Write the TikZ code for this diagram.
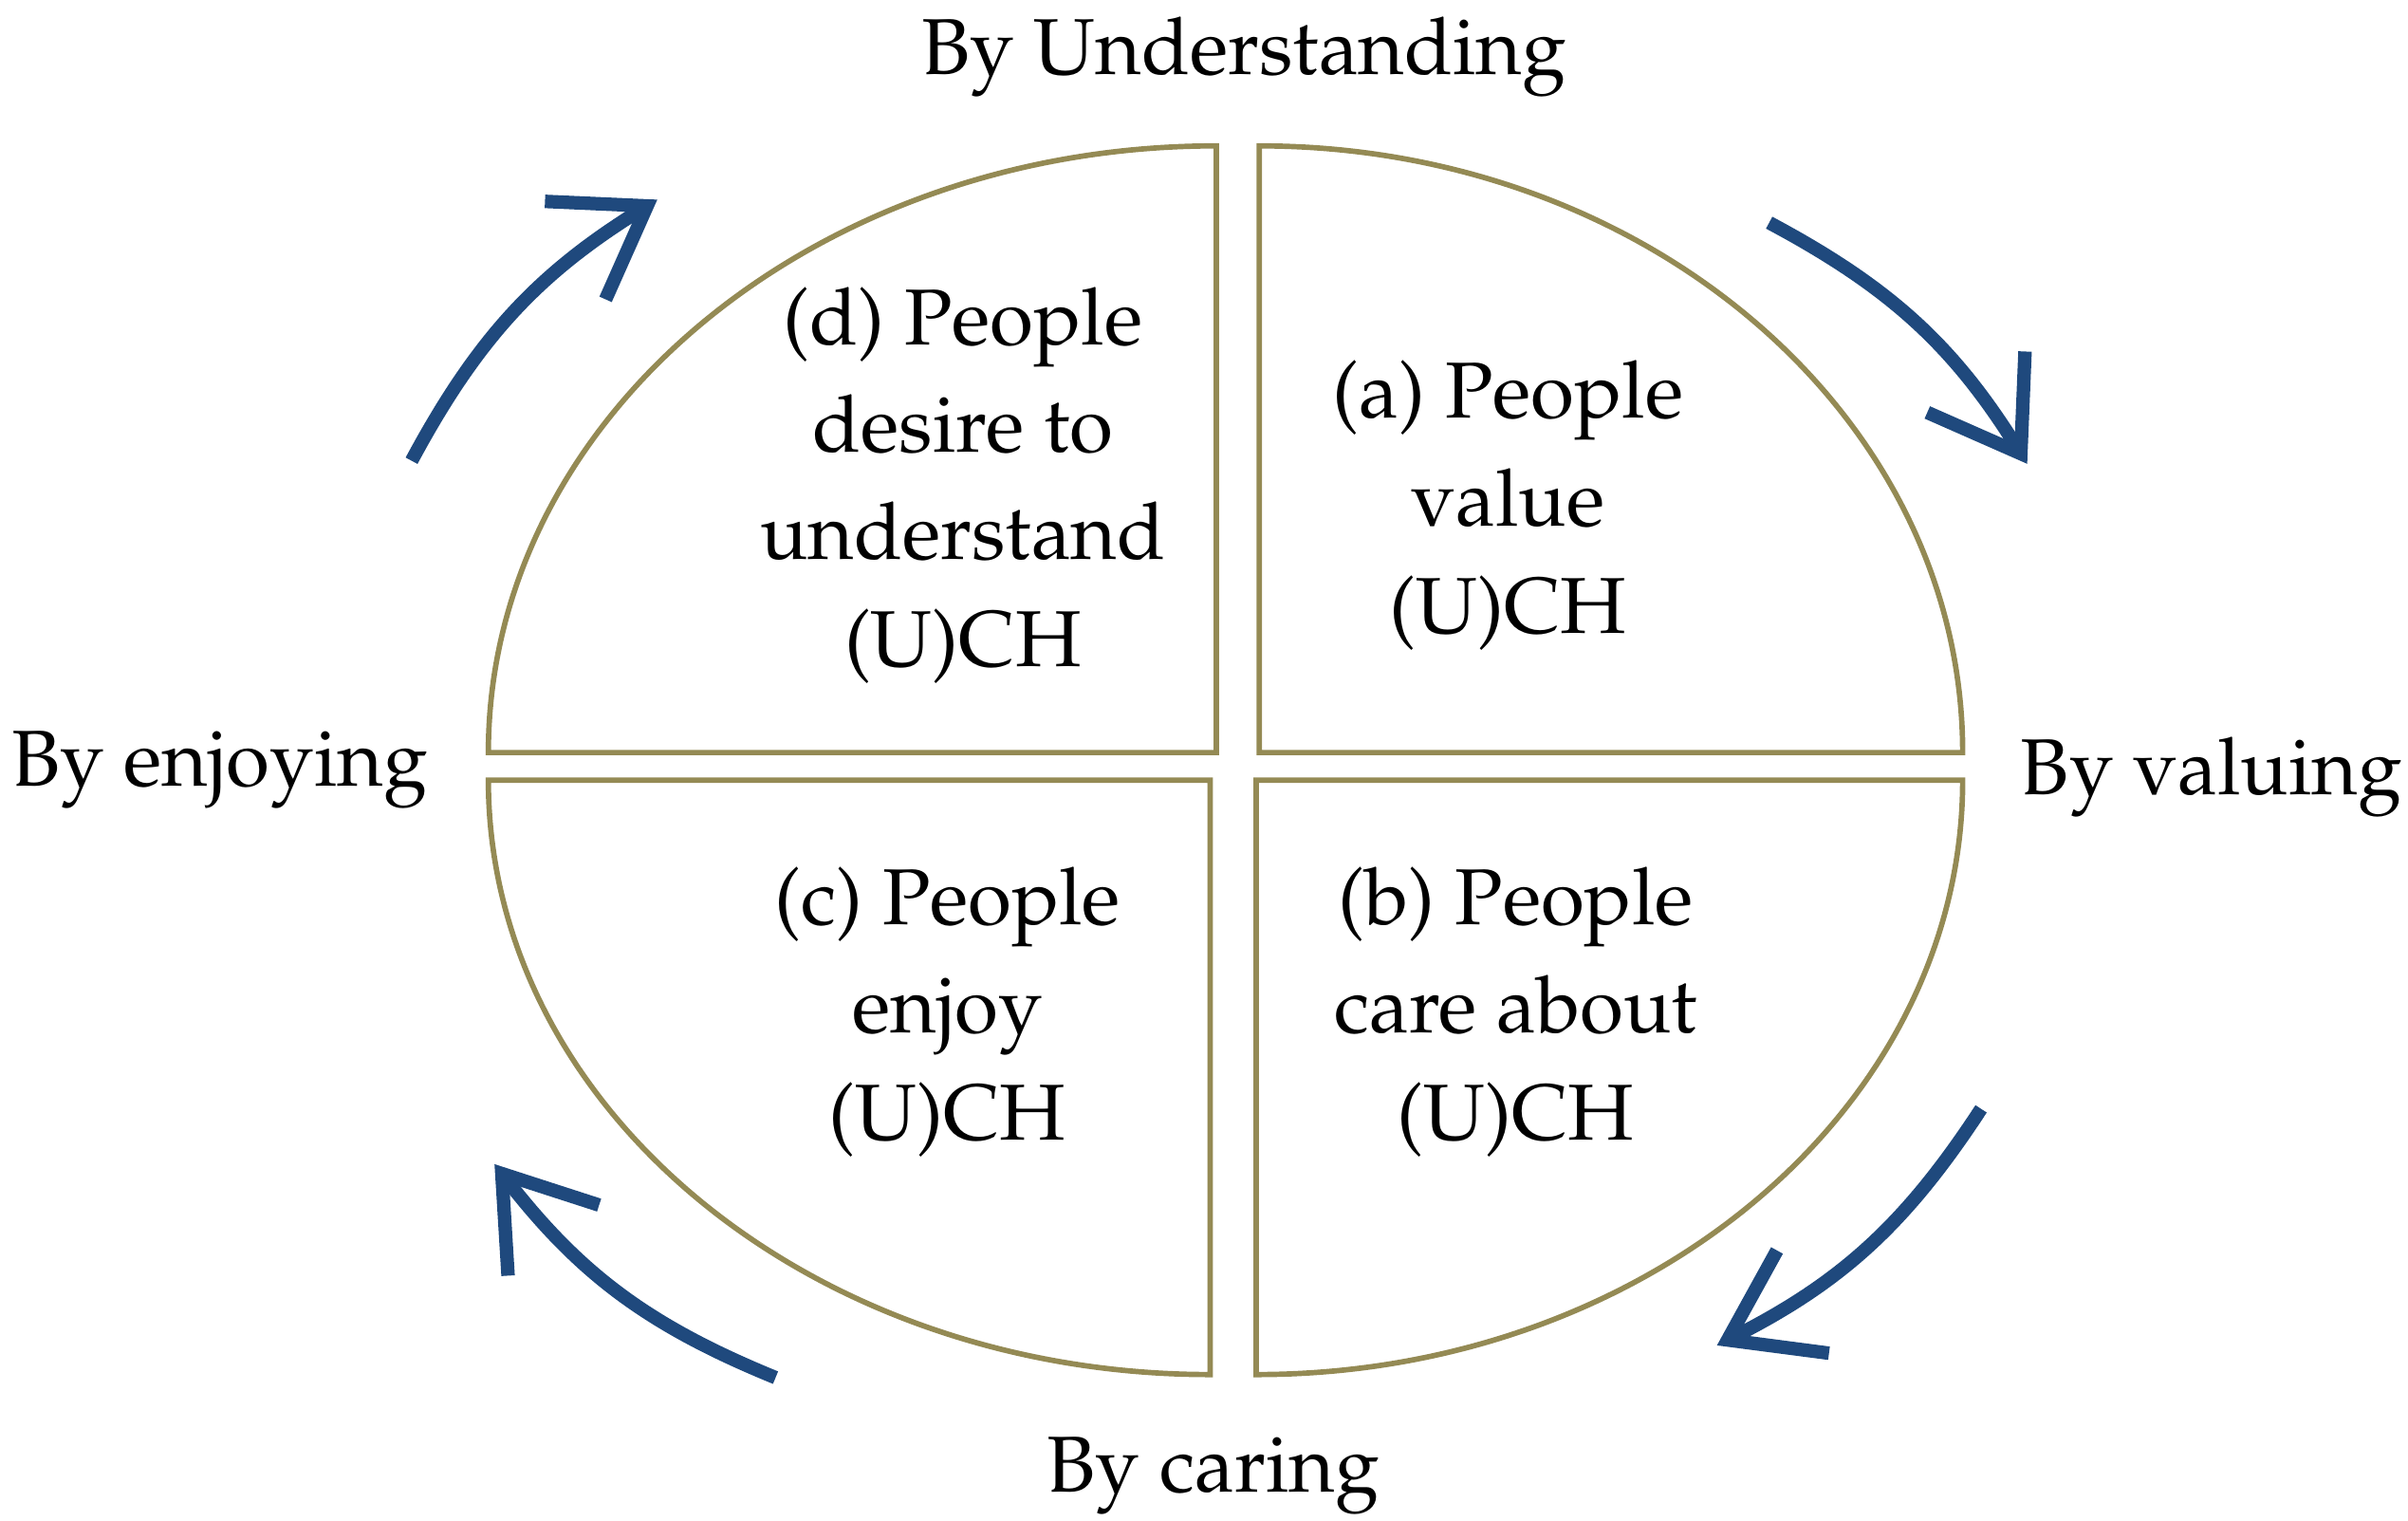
\documentclass[tikz,border=0pt]{standalone}
\usepackage[T1]{fontenc}
\usepackage{mathpazo}
\usetikzlibrary{arrows.meta}
\definecolor{quadline}{RGB}{148,138,84}
\definecolor{cycleblue}{RGB}{31,73,125}
\tikzset{
  quad/.style={draw=quadline, line width=1pt},
  cyc/.style={draw=cycleblue, line width=2.5pt,
    -{Straight Barb[length=5.5mm, width=7.5mm]}},
  label/.style={align=center, inner sep=0pt}
}
\begin{document}
\begin{tikzpicture}[font=\fontsize{14.7}{19.9}\selectfont]
            \useasboundingbox (0,0) rectangle (15.68,9.90);
            % quadrants
            \draw[quad] (7.92,5.00) -- (3.18,5.00) arc[start angle=180, end angle=90, x radius=4.74, y radius=3.95] -- cycle;
            \draw[quad] (8.20,5.00) -- (8.20,8.95) arc[start angle=90, end angle=0, x radius=4.58, y radius=3.95] -- cycle;
            \draw[quad] (7.88,4.82) -- (3.18,4.82) arc[start angle=180, end angle=270, x radius=4.70, y radius=3.87] -- cycle;
            \draw[quad] (8.18,4.82) -- (8.18,0.95) arc[start angle=270, end angle=360, x radius=4.60, y radius=3.87] -- cycle;
            % arrows
            \draw[cyc] (2.68,6.90) to[bend left=15] (4.28,8.60);
            \draw[cyc] (11.52,8.45) to[bend left=15] (13.20,6.88);
            \draw[cyc] (12.90,2.68) to[bend left=15] (11.18,1.14);
            \draw[cyc] (5.05,0.93) to[bend left=15] (3.22,2.32);
            % labels
            \draw (8.10,9.53) node[label] (understanding) {By Understanding};
            \draw (14.40,4.84) node[label] (valuing) {By valuing};
            \draw (7.90,0.29) node[label] (caring) {By caring};
            \draw (1.43,4.89) node[label] (enjoying) {By enjoying};
            \draw (9.82,6.61) node[label] (qa) {(a) People\\value\\(U)CH};
            \draw (9.87,3.31) node[label] (qb) {(b) People\\care about\\(U)CH};
            \draw (6.17,3.31) node[label] (qc) {(c) People\\enjoy\\(U)CH};
            \draw (6.27,6.74) node[label] (qd) {(d) People\\desire to\\understand\\(U)CH};
\end{tikzpicture}
\end{document}
